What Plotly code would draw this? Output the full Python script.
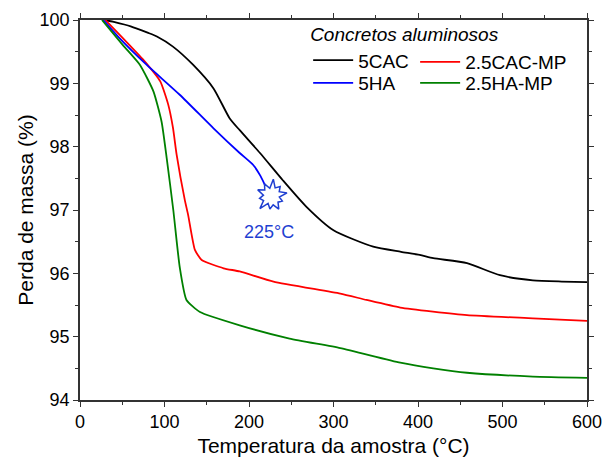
import numpy as np
import plotly.graph_objects as go

# 5CAC
t_5cac = [30, 40, 60, 80, 91, 110, 134, 158, 177, 189, 213, 240, 268, 300, 347, 380, 402, 418, 458, 497, 536, 570, 600]
m_5cac = [100.0, 99.97, 99.9, 99.8, 99.74, 99.58, 99.29, 98.92, 98.45, 98.26, 97.90, 97.47, 97.05, 96.68, 96.42, 96.34, 96.29, 96.24, 96.16, 95.97, 95.89, 95.87, 95.86]
# 2.5CAC-MP
t_cacmp = [30, 51, 75, 95, 104.5, 110, 114.4, 124, 128, 136, 144, 170, 189, 229, 308, 339, 379, 458, 536, 600]
m_cacmp = [100.0, 99.71, 99.37, 99.03, 98.66, 98.3, 97.87, 97.16, 96.92, 96.37, 96.21, 96.08, 96.03, 95.87, 95.68, 95.58, 95.46, 95.34, 95.29, 95.25]
# 5HA
t_5ha = [27.6, 47, 79, 118, 158, 189, 205, 213, 221, 225]
m_5ha = [100.0, 99.71, 99.29, 98.82, 98.29, 97.9, 97.71, 97.55, 97.34, 97.25]
# 2.5HA-MP
t_hamp = [26, 51, 71, 87, 96.6, 102.6, 110.4, 118, 126, 142, 189, 248, 308, 379, 418, 458, 536, 600]
m_hamp = [100.0, 99.6, 99.29, 98.87, 98.39, 97.82, 97.0, 96.1, 95.58, 95.39, 95.18, 94.97, 94.82, 94.59, 94.50, 94.43, 94.37, 94.35]

burst_center = (226.5, 97.22)
burst_label = "225°C"
legend_title = "Concretos aluminosos"

FONT = "Liberation Sans, Arial, sans-serif"
BLUE_TXT = "#1f3fd1"
LEG_SIZE = 19

fig = go.Figure()
common = dict(mode="lines", line_shape="spline")
fig.add_trace(go.Scatter(x=t_5cac, y=m_5cac, name="5CAC", line=dict(color="black", width=1.8, smoothing=0.6), legend="legend", **common))
fig.add_trace(go.Scatter(x=t_cacmp, y=m_cacmp, name="2.5CAC-MP", line=dict(color="#ff0000", width=1.8, smoothing=0.5), legend="legend2", **common))
fig.add_trace(go.Scatter(x=t_5ha, y=m_5ha, name="5HA", line=dict(color="#0000ff", width=1.8, smoothing=0.6), legend="legend3", **common))
fig.add_trace(go.Scatter(x=t_hamp, y=m_hamp, name="2.5HA-MP", line=dict(color="#008000", width=1.8, smoothing=0.5), legend="legend4", **common))

# burst decoration around the 225 °C point (radii in pixels converted to data units)
px_x = 507 / 600.0
px_y = 380 / 6.0
radii = [16, 9, 13, 9, 17, 8, 14, 9, 15, 8, 12, 9, 17, 8, 13, 9, 15, 9, 12, 8]
ang = np.linspace(0, 2 * np.pi, len(radii), endpoint=False) + 0.2
bx = [burst_center[0] + r * np.cos(a) / px_x for r, a in zip(radii, ang)]
by = [burst_center[1] + r * np.sin(a) / px_y for r, a in zip(radii, ang)]
bx.append(bx[0]); by.append(by[0])
fig.add_trace(go.Scatter(x=bx, y=by, mode="lines", fill="toself", fillcolor="white",
                         line=dict(color=BLUE_TXT, width=1.5), showlegend=False, hoverinfo="skip"))

fig.add_annotation(x=223.7, y=96.65, text=burst_label, showarrow=False,
                   font=dict(family=FONT, size=18, color=BLUE_TXT))

axis_common = dict(showline=True, linecolor="#333333", linewidth=1.5, mirror="allticks",
                   ticks="outside", ticklen=5, tickwidth=1.2, tickcolor="#333333",
                   showgrid=False, zeroline=False,
                   tickfont=dict(family=FONT, size=18, color="black"))
fig.update_xaxes(range=[0, 600], dtick=100,
                 minor=dict(dtick=50, ticks="outside", ticklen=3, tickcolor="#333333"),
                 title=dict(text="Temperatura da amostra (°C)", font=dict(family=FONT, size=21, color="black"), standoff=7),
                 **axis_common)
fig.update_yaxes(range=[94, 100], dtick=1,
                 minor=dict(dtick=0.5, ticks="outside", ticklen=3, tickcolor="#333333"),
                 title=dict(text="Perda de massa (%)", font=dict(family=FONT, size=21, color="black"), standoff=0),
                 **axis_common)

leg_common = dict(orientation="v", bgcolor="rgba(0,0,0,0)", borderwidth=0,
                  font=dict(family=FONT, size=LEG_SIZE, color="black"), itemwidth=40,
                  xanchor="left", yanchor="top", tracegroupgap=0, itemclick=False)
fig.update_layout(
    width=604, height=459,
    margin=dict(l=80, r=17, t=20, b=59, autoexpand=False),
    paper_bgcolor="white", plot_bgcolor="white",
    font=dict(family=FONT, size=18, color="black"),
    legend=dict(x=0.45, y=1.009, title=dict(text="<i>" + legend_title + "</i>", side="top",
                                             font=dict(family=FONT, size=LEG_SIZE, color="black")),
                **leg_common),
    legend2=dict(x=0.661, y=0.9395, **leg_common),
    legend3=dict(x=0.45, y=0.884, **leg_common),
    legend4=dict(x=0.661, y=0.884, **leg_common),
)

fig.write_html("out.html")
